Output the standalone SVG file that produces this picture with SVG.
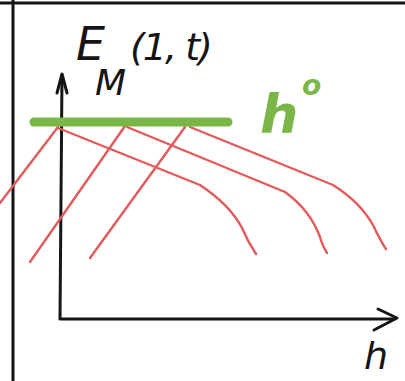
<svg xmlns="http://www.w3.org/2000/svg" width="405" height="381" viewBox="0 0 405 381">
<style>
.ax{fill:none;stroke:#151515;stroke-width:3;stroke-linecap:round;stroke-linejoin:round}
.red{fill:none;stroke:#e25a5a;stroke-width:2.4;stroke-linecap:round;stroke-linejoin:round}
.lbl{font-family:"DejaVu Sans","Liberation Sans",sans-serif;font-style:italic;fill:#151515}
.grn{font-family:"DejaVu Sans","Liberation Sans",sans-serif;font-style:italic;font-weight:bold;fill:#7ab648}
</style>
<rect width="405" height="381" fill="#ffffff"/>
<g id="frame">
<line class="ax" x1="0" y1="3" x2="405" y2="3"/>
<line class="ax" x1="13" y1="0" x2="13" y2="381"/>
</g>
<g id="axes">
<polyline class="ax" points="62,75 60,319 394,319"/>
<polyline class="ax" points="57,93 62,74 67,93"/>
<polyline class="ax" points="378,309 397,318 374,330"/>
</g>
<g id="connectors">
<line class="red" x1="0" y1="203" x2="58" y2="127"/>
<line class="red" x1="30" y1="262" x2="125" y2="126"/>
<line class="red" x1="90" y1="258" x2="185" y2="127"/>
<path class="red" d="M58,128 L200,185 Q230,205 242,228 Q248,242 256,254"/>
<path class="red" d="M127,127 L285,192 Q310,210 320,237 Q323,247 327,253"/>
<path class="red" d="M190,127 L333,185 Q360,202 373,225 Q380,240 386,249"/>
</g>
<g id="h0-line">
<line x1="34" y1="122" x2="228" y2="122" stroke="#7ab648" stroke-width="9" stroke-linecap="round"/>
</g>
<g id="label-E">
<text class="lbl" x="76" y="60" font-size="46">E</text>
<text class="lbl" x="95" y="95" font-size="36">M</text>
<text class="lbl" x="130" y="60" font-size="38" letter-spacing="-2">(1, t)</text>
</g>
<g id="label-h0">
<text class="grn" x="260" y="133" font-size="54">h</text>
<text class="grn" x="302" y="95" font-size="28">o</text>
</g>
<g id="label-h">
<text class="lbl" x="364" y="369" font-size="38">h</text>
</g>
</svg>
